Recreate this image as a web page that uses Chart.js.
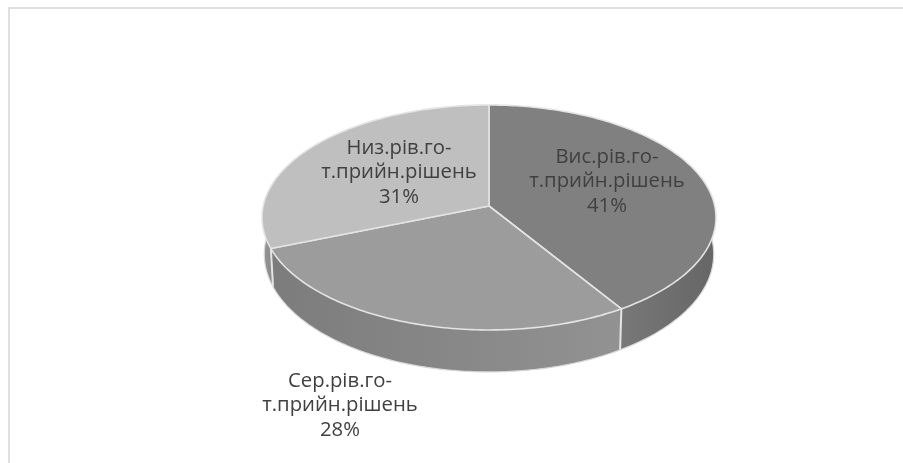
<!DOCTYPE html>
<html lang="uk">
<head>
<meta charset="utf-8">
<title>Рівень готовності</title>
<script src="https://cdn.jsdelivr.net/npm/chart.js@4/dist/chart.umd.min.js"></script>
<style>
  html, body { margin: 0; padding: 0; background: #fff; overflow: hidden; }
  #frame {
    position: absolute; left: 8px; top: 7px; right: 0; bottom: 0;
    border-left: 2px solid #e0e0e0; border-top: 2px solid #e0e0e0;
  }
  #chart { position: absolute; left: 0; top: 0; }
</style>
</head>
<body>
<div id="frame"></div>
<canvas id="chart" width="903" height="463"></canvas>
<script>
// Chart data
const categories = ['Вис.рів.го-т.прийн.рішень', 'Сер.рів.го-т.прийн.рішень', 'Низ.рів.го-т.прийн.рішень'];
const shares = [41, 28, 31];
const topColors = ['#808080', '#9c9c9c', '#bfbfbf'];

// Side wall shading, left-to-right along the wall's sweep
const wallColors = [['#787878', '#666666'], ['#7c7c7c', '#929292'], ['#969696', '#8a8a8a']];

// Label placement: centre x and first line y per slice
const labelSpots = [{ x: 607, y: 157 }, { x: 340, y: 381 }, { x: 399, y: 148 }];

// Tilted disc: apex position, half sizes and perspective strength
const DISC = { cx: 489, cy: 206, a: 225.8, b: 111.3, k: 0.102 };
const SEAM = '#e4e4e4';

/** Maps a disc angle to the tilted top face */
function topPoint(angle) {
  const u = Math.cos(angle);
  const v = Math.sin(angle);
  const w = 1 - DISC.k * v;
  return { x: DISC.cx + DISC.a * u / w, y: DISC.cy + DISC.b * v / w };
}

/** Same angle on the lower rim of the wall */
function rimPoint(angle) {
  const p = topPoint(angle);
  const depth = 36 + 6 * Math.sin(angle);
  return { x: DISC.cx + (p.x - DISC.cx) * 0.99, y: p.y + depth };
}

function tracePoints(ctx, points) {
  points.forEach((p, i) => (i ? ctx.lineTo(p.x, p.y) : ctx.moveTo(p.x, p.y)));
}

function sampleArc(from, to, pointAt) {
  const steps = Math.max(2, Math.ceil(Math.abs(to - from) * 60));
  const points = [];
  for (let i = 0; i <= steps; i++) {
    points.push(pointAt(from + (to - from) * i / steps));
  }
  return points;
}

/** Draws the visible part of the wall under one slice */
function drawWall(ctx, arc, shades) {
  const from = Math.max(arc.startAngle, -0.05);
  const to = Math.min(arc.endAngle, Math.PI + 0.05);
  if (to <= from) return;

  const upper = sampleArc(from, to, topPoint);
  const lower = sampleArc(from, to, rimPoint).reverse();
  const xs = upper.concat(lower).map(p => p.x);
  const gradient = ctx.createLinearGradient(Math.min(...xs), 0, Math.max(...xs), 0);
  gradient.addColorStop(0, shades[0]);
  gradient.addColorStop(1, shades[1]);

  ctx.beginPath();
  tracePoints(ctx, upper.concat(lower));
  ctx.closePath();
  ctx.fillStyle = gradient;
  ctx.fill();

  // light outline along the lower rim
  ctx.beginPath();
  tracePoints(ctx, lower);
  ctx.strokeStyle = '#d8d8d8';
  ctx.lineWidth = 1.2;
  ctx.stroke();
}

/** Draws the flat top of one slice */
function drawFace(ctx, arc) {
  const apex = { x: DISC.cx, y: DISC.cy };
  ctx.beginPath();
  tracePoints(ctx, [apex].concat(sampleArc(arc.startAngle, arc.endAngle, topPoint)));
  ctx.closePath();
  ctx.fillStyle = arc.options.backgroundColor;
  ctx.fill();
  ctx.strokeStyle = SEAM;
  ctx.lineWidth = 1.6;
  ctx.lineJoin = 'round';
  ctx.stroke();
}

/** Vertical seam where two slices meet on the wall */
function drawWallSeam(ctx, angle) {
  const a = topPoint(angle);
  const b = rimPoint(angle);
  ctx.beginPath();
  ctx.moveTo(a.x, a.y);
  ctx.lineTo(b.x, b.y);
  ctx.strokeStyle = SEAM;
  ctx.lineWidth = 2;
  ctx.stroke();
}

function drawLabels(ctx, total) {
  ctx.font = '20.3px "Open Sans"';
  ctx.fillStyle = '#404040';
  ctx.textAlign = 'center';
  ctx.textBaseline = 'middle';
  categories.forEach((name, i) => {
    const cut = name.indexOf('-') + 1;
    const lines = [name.slice(0, cut), name.slice(cut), Math.round(shares[i] / total * 100) + '%'];
    lines.forEach((line, row) => {
      ctx.fillText(line, labelSpots[i].x, labelSpots[i].y + row * 24.5);
    });
  });
}

// Replaces the flat pie drawing with a tilted disc built from the computed arcs
const tiltedPie = {
  id: 'tiltedPie',
  beforeDatasetDraw(chart, args) {
    const ctx = chart.ctx;
    const arcs = args.meta.data;
    ctx.save();
    arcs.forEach((arc, i) => drawWall(ctx, arc, wallColors[i]));
    arcs.forEach(arc => {
      if (arc.endAngle > 0 && arc.endAngle < Math.PI) drawWallSeam(ctx, arc.endAngle);
    });
    arcs.forEach(arc => drawFace(ctx, arc));
    drawLabels(ctx, shares.reduce((sum, v) => sum + v, 0));
    ctx.restore();
    return false;
  }
};

new Chart(document.getElementById('chart'), {
  type: 'pie',
  data: {
    labels: categories,
    datasets: [{ data: shares, backgroundColor: topColors, borderWidth: 0 }]
  },
  options: {
    responsive: false,
    animation: false,
    plugins: { legend: { display: false }, tooltip: { enabled: false } }
  },
  plugins: [tiltedPie]
});
</script>
</body>
</html>
